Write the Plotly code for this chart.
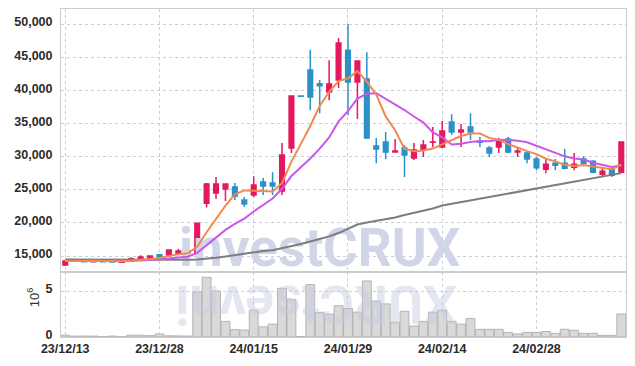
import plotly.graph_objects as go
from plotly.subplots import make_subplots
import pandas as pd

dates = ["23/12/13","23/12/14","23/12/15","23/12/18","23/12/19","23/12/20","23/12/21","23/12/22","23/12/26","23/12/27",
         "23/12/28","24/01/02","24/01/03","24/01/04","24/01/05","24/01/08","24/01/09","24/01/10","24/01/11","24/01/12",
         "24/01/15","24/01/16","24/01/17","24/01/18","24/01/19","24/01/22","24/01/23","24/01/24","24/01/25","24/01/26",
         "24/01/29","24/01/30","24/01/31","24/02/01","24/02/02","24/02/05","24/02/06","24/02/07","24/02/08","24/02/13",
         "24/02/14","24/02/15","24/02/16","24/02/19","24/02/20","24/02/21","24/02/22","24/02/23","24/02/26","24/02/27",
         "24/02/28","24/02/29","24/03/04","24/03/05","24/03/06","24/03/07","24/03/08","24/03/11","24/03/12","24/03/13"]

opens = [13650,14400,14400,14150,14250,14150,14050,14200,14450,14550,
         15200,15150,15300,15750,15300,22950,24500,25100,25400,23450,
         24200,26150,26000,24800,31300,39150,43050,41000,39750,41550,
         46050,41250,41700,31600,32200,30700,31300,29800,31150,32150,
         31450,35200,33700,34450,32250,31300,31450,32650,30700,30550,
         29650,28100,29000,29000,28400,29650,29300,27350,28100,27650]

highs = [14350,14500,14450,14400,14300,14250,14250,14800,15100,15100,
         15250,16000,16100,15850,20000,26000,26900,25900,26000,23900,
         27050,26750,27650,32050,39150,39200,46100,41550,44550,47900,
         50000,44450,45750,32800,33700,32650,31750,32050,32500,34450,
         35350,36400,34900,36550,32950,31600,32800,32950,31450,30700,
         29950,29650,29650,31150,30550,30100,29450,28250,28400,32200]

lows = [13500,14250,14100,14100,14100,14050,14000,14150,14400,14500,
        14850,15100,15200,15350,15250,22300,23600,23300,23450,22400,
        23900,24200,24200,24200,30550,39050,37000,36550,38500,40350,
        36250,35650,32650,29000,29600,30650,26900,29500,29950,31450,
        31300,33250,31450,32500,31450,29950,30550,30550,29950,29000,
        27950,27500,27950,28100,27950,28550,27500,26900,26900,27650]

closes = [14250,14350,14150,14350,14150,14100,14200,14600,14850,15000,
          14900,15900,15750,15450,19950,25850,25850,25850,24050,22850,
          25700,25550,25550,30250,39150,39100,39000,40700,40950,47150,
          41250,44400,32800,31150,30700,30850,30250,31000,31750,32200,
          33850,33700,34000,33700,32150,30550,32350,30700,30850,29650,
          28300,28850,28700,28250,28850,29000,27650,27800,27200,32200]

ma60 = [14470,14460,14450,14430,14420,14400,14390,14390,14380,14380,
        14380,14390,14410,14440,14480,14584,14735,14916,15143,15369,
        15596,15746,15867,16154,16500,16802,17180,17557,17965,18463,
        19067,19746,20048,20274,20470,20802,21180,21481,21783,22160,
        22613,22870,23141,23398,23655,23911,24167,24424,24680,24937,
        25194,25450,25707,25963,26220,26476,26733,26988,27244,27500]

volumes = [0.2,0.1,0.1,0.1,0.05,0.1,0.03,0.2,0.2,0.15,
           0.33,0.13,0.12,0.1,4.9,6.5,5.0,1.7,0.8,0.75,
           2.9,1.1,1.4,5.3,4.1,0.05,5.7,2.65,2.5,3.4,
           3.1,2.7,6.1,3.9,3.6,1.6,2.8,1.2,1.7,2.7,
           2.9,1.7,1.4,2.0,0.84,0.84,0.84,0.5,0.33,0.5,
           0.5,0.6,0.4,0.84,0.73,0.4,0.4,0.18,0.18,2.5]  # millions

price_ticks = [15000, 20000, 25000, 30000, 35000, 40000, 45000, 50000]
date_ticks = ["23/12/13", "23/12/28", "24/01/15", "24/01/29", "24/02/14", "24/02/28"]

cs = pd.Series(closes)
ma5 = cs.rolling(5, min_periods=1).mean().tolist()
ma10 = cs.rolling(10, min_periods=1).mean().tolist()
vol_abs = [v * 1e6 for v in volumes]

UP = "#e3195f"
DOWN = "#2b91c8"
GRID = "#c9cde0"
TICKFONT = dict(family="Liberation Sans, Arial, sans-serif", size=12.5, color="#2b2b2b", weight="bold")
WMFONT = "Roboto, Open Sans, sans-serif"

fig = make_subplots(rows=2, cols=1, shared_xaxes=True, vertical_spacing=0,
                    row_heights=[0.802, 0.198])

# watermark (drawn first so everything sits above it)
fig.add_trace(go.Scatter(x=[dates[27]], y=[15500], mode="text", text=["investCRUX"],
                         textposition="middle center",
                         textfont=dict(family=WMFONT, size=53, color="#d0d6e8", weight="bold"),
                         hoverinfo="skip", showlegend=False), row=1, col=1)

fig.add_trace(go.Candlestick(x=dates, open=opens, high=highs, low=lows, close=closes,
                             increasing=dict(line=dict(color=UP, width=1.5), fillcolor=UP),
                             decreasing=dict(line=dict(color=DOWN, width=1.5), fillcolor=DOWN),
                             whiskerwidth=0, showlegend=False), row=1, col=1)

fig.add_trace(go.Scatter(x=dates, y=ma60, mode="lines", line=dict(color="#7d7d7d", width=2),
                         showlegend=False, hoverinfo="skip"), row=1, col=1)
fig.add_trace(go.Scatter(x=dates, y=ma10, mode="lines", line=dict(color="#c957e8", width=2),
                         showlegend=False, hoverinfo="skip"), row=1, col=1)
fig.add_trace(go.Scatter(x=dates, y=ma5, mode="lines", line=dict(color="#ef8a4e", width=2),
                         showlegend=False, hoverinfo="skip"), row=1, col=1)

fig.add_trace(go.Bar(x=dates, y=vol_abs, marker=dict(color="#d9d9d9", line=dict(color="#b3b3b3", width=1)),
                     showlegend=False, hoverinfo="skip"), row=2, col=1)

axis_common = dict(showline=True, linecolor="#cccccc", linewidth=1, mirror=True,
                   showgrid=True, gridcolor=GRID, griddash="dot", gridwidth=1, zeroline=False)

fig.update_xaxes(type="category", categoryorder="array", categoryarray=dates,
                 range=[-0.45, 59.5], tickmode="array", tickvals=date_ticks,
                 ticktext=date_ticks, tickfont=TICKFONT, rangeslider_visible=False,
                 **axis_common)
fig.update_xaxes(showticklabels=False, row=1, col=1)

fig.update_yaxes(range=[12577, 52264], tickmode="array", tickvals=price_ticks,
                 ticktext=[f"{v:,}" for v in price_ticks], tickfont=TICKFONT,
                 ticks="outside", ticklen=5, tickcolor="rgba(0,0,0,0)", ticklabelshift=-2,
                 row=1, col=1, **axis_common)
fig.update_yaxes(range=[0, 7.07e6], tickmode="array", tickvals=[0, 5e6], ticktext=["0", "5"],
                 tickfont=TICKFONT, ticks="outside", ticklen=5, tickcolor="rgba(0,0,0,0)",
                 ticklabelshift=-2, row=2, col=1, **axis_common)

fig.add_annotation(xref="paper", yref="paper", x=-0.049, y=0.122, xanchor="center", yanchor="middle",
                   text="10<sup>6</sup>", textangle=-90, showarrow=False,
                   font=dict(family="Liberation Sans, Arial, sans-serif", size=13, color="#333333"))

# reflection of the watermark
fig.add_annotation(xref="paper", yref="paper", x=0.451, y=0.1, xanchor="center", yanchor="middle",
                   text="XURCtsevni", textangle=180, showarrow=False, opacity=0.45,
                   font=dict(family=WMFONT, size=53, color="#c4cae0", weight="bold"))

fig.update_layout(width=635, height=366, margin=dict(l=61, r=9, t=9, b=29),
                  paper_bgcolor="white", plot_bgcolor="white", bargap=0.06,
                  hovermode=False)

fig.write_html("out.html")
